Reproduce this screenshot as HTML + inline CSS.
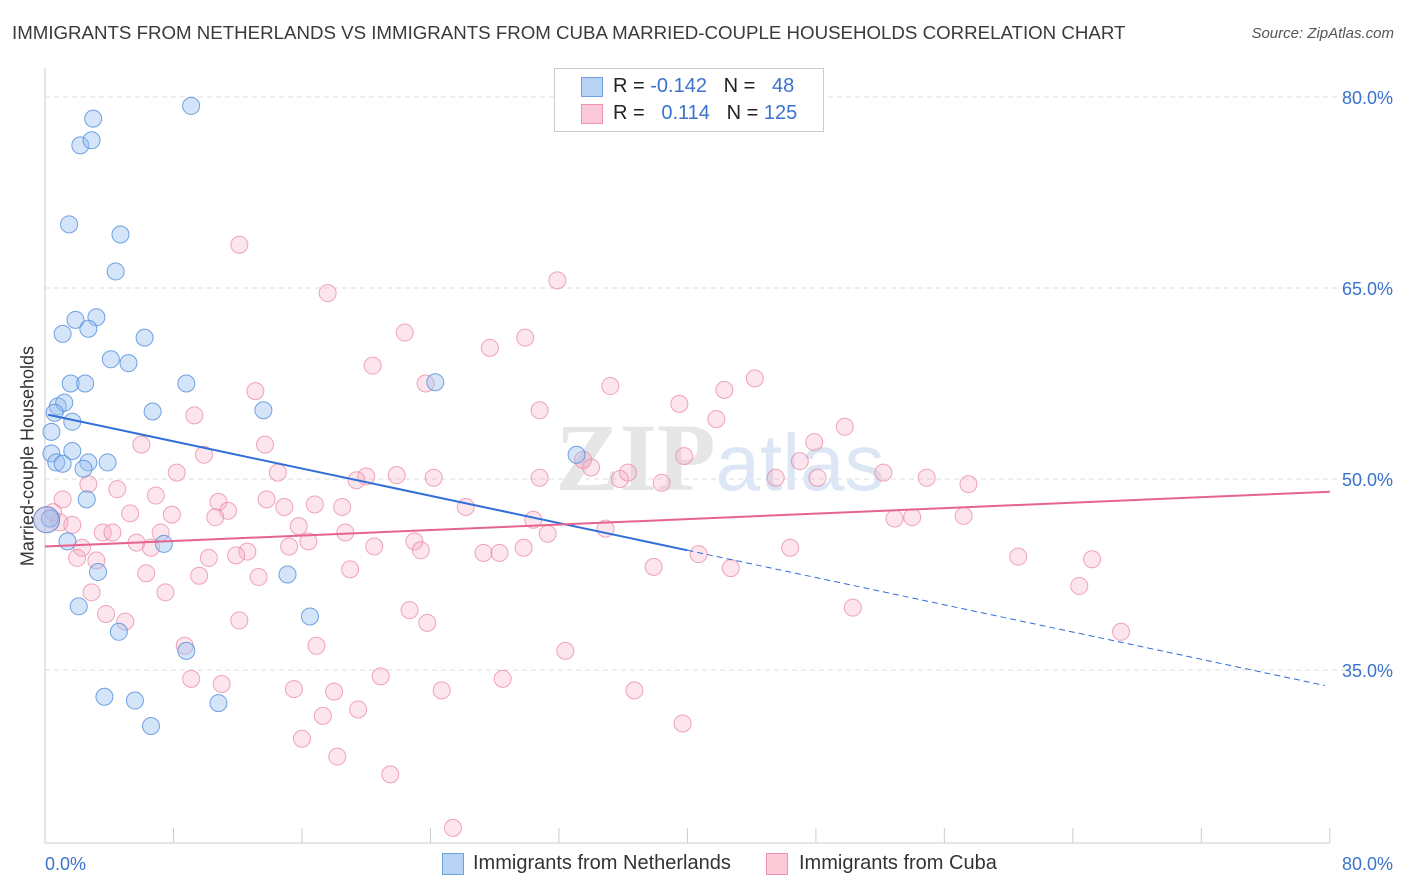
<!DOCTYPE html>
<html><head><meta charset="utf-8">
<style>
body{margin:0;background:#fff;font-family:"Liberation Sans",sans-serif;}
#wrap{position:relative;width:1406px;height:892px;overflow:hidden;}
.t{position:absolute;white-space:nowrap;}
</style></head>
<body>
<div id="wrap">
<div class="t" style="left:12px;top:22px;font-size:18.7px;color:#3a3a3a;">IMMIGRANTS FROM NETHERLANDS VS IMMIGRANTS FROM CUBA MARRIED-COUPLE HOUSEHOLDS CORRELATION CHART</div>
<div class="t" style="right:12px;top:25px;font-size:15px;color:#555;font-style:italic;">Source: ZipAtlas.com</div>
<div class="t" style="left:28px;top:456px;font-size:18px;color:#333;transform:translate(-50%,-50%) rotate(-90deg);">Married-couple Households</div>
<svg id="svg" width="1406" height="892" style="position:absolute;left:0;top:0"></svg>
<div style="position:absolute;left:554px;top:68px;width:268px;height:62px;border:1px solid #ccc;background:#fff;">
 <div style="position:absolute;left:26px;top:8px;width:20px;height:18px;background:#b8d3f5;border:1px solid #6f9fe0;"></div>
 <div style="position:absolute;left:26px;top:35px;width:20px;height:18px;background:#fbc9d8;border:1px solid #ee93ad;"></div>
 <div class="t" style="left:58px;top:6px;font-size:20px;color:#222;">R = <span style="color:#3b73cc">-0.142</span>&nbsp;&nbsp;&nbsp;N = &nbsp;&nbsp;<span style="color:#3b73cc">48</span></div>
 <div class="t" style="left:58px;top:33px;font-size:20px;color:#222;">R = &nbsp;&nbsp;<span style="color:#3b73cc">0.114</span>&nbsp;&nbsp;&nbsp;N = <span style="color:#3b73cc">125</span></div>
</div>
<div>
 <div style="position:absolute;left:442px;top:853px;width:20px;height:20px;background:#b8d3f5;border:1px solid #6f9fe0;"></div>
 <div class="t" style="left:473px;top:852px;font-size:20px;color:#333;">Immigrants from Netherlands</div>
 <div style="position:absolute;left:766px;top:853px;width:20px;height:20px;background:#fbc9d8;border:1px solid #ee93ad;"></div>
 <div class="t" style="left:799px;top:852px;font-size:20px;color:#333;">Immigrants from Cuba</div>
</div>
</div>
<script>
const yTicks=[80,65,50,35];
const xTickLabels=["0.0%","80.0%"];
const blueX=[9.1,3.0,2.2,2.9,1.5,4.7,4.4,1.9,3.2,1.1,2.7,6.2,4.1,5.2,1.6,2.5,8.8,24.3,0.8,1.2,0.6,6.7,13.6,1.7,0.4,1.7,0.4,0.7,1.1,2.7,3.9,2.4,33.1,2.6,0.3,1.4,7.4,3.3,15.1,2.1,16.5,4.6,8.8,3.7,5.6,10.8,6.6,0.1];
const blueY=[79.3,78.3,76.2,76.6,70.0,69.2,66.3,62.5,62.7,61.4,61.8,61.1,59.4,59.1,57.5,57.5,57.5,57.6,55.7,56.0,55.2,55.3,55.4,54.5,53.7,52.2,52.0,51.3,51.2,51.3,51.3,50.8,51.9,48.4,46.9,45.1,44.9,42.7,42.5,40.0,39.2,38.0,36.5,32.9,32.6,32.4,30.6,46.8];
const pinkX=[12.1,31.9,17.6,22.4,29.9,27.7,20.4,44.2,35.2,23.7,42.3,13.1,39.5,30.8,9.3,41.8,49.8,47.9,6.0,13.7,39.8,9.9,47.0,33.5,34.0,36.3,8.2,14.5,20.0,21.9,24.2,30.8,35.8,45.5,48.1,52.2,54.9,57.5,19.4,38.4,2.7,4.5,6.9,1.1,10.8,13.8,16.8,14.9,18.5,26.2,11.4,5.3,7.9,10.6,0.5,0.9,1.7,52.9,54.0,57.2,30.4,15.8,34.9,7.2,3.6,4.2,18.7,31.3,5.7,6.6,15.2,16.4,20.5,23.0,23.4,29.8,46.4,2.3,12.6,11.9,27.3,28.3,40.7,2.0,10.2,3.2,60.6,65.2,37.9,42.7,6.3,19.0,9.6,13.3,64.4,2.9,7.5,50.3,22.7,3.8,5.0,12.1,23.8,67.0,8.7,16.9,32.4,9.1,11.0,20.9,28.5,15.5,18.0,24.7,36.7,19.5,17.3,39.7,16.0,18.2,21.5,25.4,0.1];
const pinkY=[68.4,65.6,64.6,61.5,61.1,60.3,58.9,57.9,57.3,57.5,57.0,56.9,55.9,55.4,55.0,54.7,54.1,52.9,52.7,52.7,51.8,51.9,51.4,51.5,50.9,50.5,50.5,50.5,50.2,50.3,50.1,50.1,50.0,50.1,50.1,50.5,50.1,49.6,49.9,49.7,49.6,49.2,48.7,48.4,48.2,48.4,48.0,47.8,47.8,47.8,47.5,47.3,47.2,47.0,47.4,46.6,46.4,46.9,47.0,47.1,46.8,46.3,46.1,45.8,45.8,45.8,45.8,45.7,45.0,44.6,44.7,45.1,44.7,45.1,44.4,44.6,44.6,44.6,44.3,44.0,44.2,44.2,44.1,43.8,43.8,43.6,43.9,43.7,43.1,43.0,42.6,42.9,42.4,42.3,41.6,41.1,41.1,39.9,39.7,39.4,38.8,38.9,38.7,38.0,36.9,36.9,36.5,34.3,33.9,34.5,34.3,33.5,33.3,33.4,33.4,31.9,31.4,30.8,29.6,28.2,26.8,22.6,46.8];
const blueTrend=[55.1,33.7];
const pinkTrend=[44.7,49.0];
const blueSolidEnd=40;

const X=v=>45+v*16.06;
const Y=v=>97+(80-v)*12.733;
const svg=document.getElementById('svg');
const NS='http://www.w3.org/2000/svg';
function mk(tag,attrs){const e=document.createElementNS(NS,tag);for(const k in attrs)e.setAttribute(k,attrs[k]);svg.appendChild(e);return e;}

for(const t of yTicks){
 const g=mk('line',{x1:45,x2:1393,y1:Y(t),y2:Y(t),stroke:'#dcdcdc','stroke-dasharray':'5,4'});
 
 
 const tx=mk('text',{x:1393,y:Y(t)+7,'text-anchor':'end','font-size':18,fill:'#3b73cc','font-family':'Liberation Sans'});
 tx.textContent=t.toFixed(1)+'%';
 
 
}
const ax=mk('line',{x1:45,x2:45,y1:68,y2:843,stroke:'#ccc'});


const bx=mk('line',{x1:45,x2:1330,y1:843,y2:843,stroke:'#ccc'});


for(let i=0;i<=10;i++){
 const l=mk('line',{x1:X(i*8),x2:X(i*8),y1:828,y2:843,stroke:'#ccc'});
 
 
}
const xl0=mk('text',{x:45,y:870,'font-size':18,fill:'#3b73cc','font-family':'Liberation Sans'});
xl0.textContent=xTickLabels[0];


const xl1=mk('text',{x:1393,y:870,'text-anchor':'end','font-size':18,fill:'#3b73cc','font-family':'Liberation Sans'});
xl1.textContent=xTickLabels[1];



const wm=mk('text',{x:720,y:490,'text-anchor':'middle','font-size':96,fill:'#e6e6e6','font-family':'Liberation Serif','font-weight':'bold'});
wm.innerHTML='ZIP<tspan font-family="Liberation Sans" font-weight="normal" font-size="80" fill="#dce6f4">atlas</tspan>';



function pts(xs,ys,fill,stroke,name){
 for(let i=0;i<xs.length;i++){
  const big=xs[i]<0.3;
  const c=mk('circle',{cx:X(xs[i]),cy:Y(ys[i]),r:big?13:8.5,fill:fill,stroke:stroke,'stroke-width':1});
  
  
 }
}
pts(pinkX,pinkY,'rgba(247,170,194,0.3)','rgba(232,130,160,0.7)','point-cuba');
pts(blueX,blueY,'rgba(150,190,240,0.4)','rgba(80,140,220,0.8)','point-netherlands');

const bAt=v=>blueTrend[0]+(blueTrend[1]-blueTrend[0])*v/80;
const bl=mk('line',{x1:X(0.2),y1:Y(bAt(0.2)),x2:X(blueSolidEnd),y2:Y(bAt(blueSolidEnd)),stroke:'#2f6fd6','stroke-width':2});


const bd=mk('line',{x1:X(blueSolidEnd),y1:Y(bAt(blueSolidEnd)),x2:X(79.7),y2:Y(bAt(79.7)),stroke:'#2f6fd6','stroke-width':1,'stroke-dasharray':'6,4'});


const pl=mk('line',{x1:X(0),y1:Y(pinkTrend[0]),x2:X(80),y2:Y(pinkTrend[1]),stroke:'#e5648f','stroke-width':2});


</script>
</body></html>
